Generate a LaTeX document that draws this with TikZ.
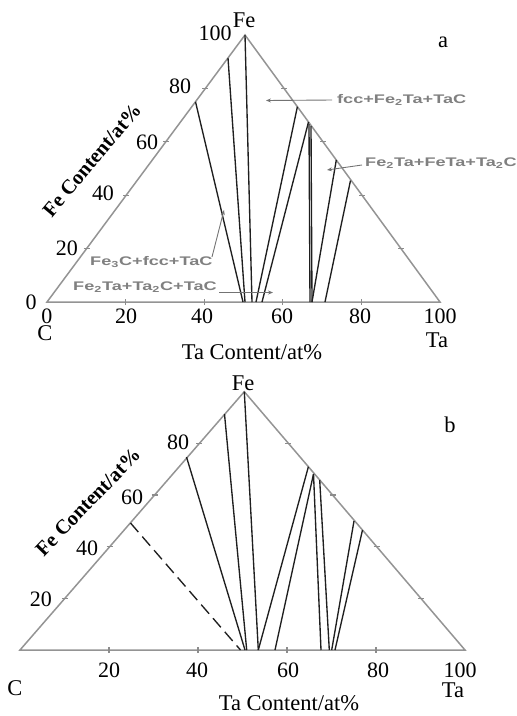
\documentclass[tikz,border=0pt]{standalone}
\usepackage{fontspec}
\usepackage{graphicx}
\setmainfont{Liberation Serif}
\newfontfamily\lsans{Liberation Sans}
\usetikzlibrary{arrows.meta}
\newcommand{\widetxt}[1]{\scalebox{1.45}[1]{#1}}
\begin{document}
\begin{tikzpicture}[x=1pt,y=-1pt,
  frame/.style={draw=black!42,line width=1.5pt,line join=miter},
  tie/.style={draw=black!88,line width=1.35pt},
  tickmark/.style={draw=black!45,line width=1.1pt},
  num/.style={font=\fontsize{22}{22}\selectfont,inner sep=0pt},
  axlab/.style={font=\fontsize{22.5}{22.5}\selectfont,inner sep=0pt},
  felab/.style={font=\bfseries\fontsize{20.5}{20.5}\selectfont,inner sep=0pt},
  phase/.style={font=\lsans\bfseries\fontsize{12.5}{12.5}\selectfont,text=black!50,inner sep=0pt},
  lead/.style={draw=black!55,line width=0.9pt},
  leadarrow/.style={lead,-{Stealth[length=5pt,width=4pt]}}]
\useasboundingbox (0,0) rectangle (517,716);

% ================= diagram a =================
\coordinate (aC) at (47,302);
\coordinate (aFe) at (245,35);
\coordinate (aTa) at (440,302);
\draw[frame] (aC) -- (aFe) -- (aTa) -- cycle;
% ticks
\foreach \f in {0.2,0.4,0.6,0.8}{
  \draw[tickmark] ({47+393*\f},299) -- ({47+393*\f},305);
  \draw[tickmark] ({47+198*\f-3},{302-267*\f}) -- ({47+198*\f+3},{302-267*\f});
  \draw[tickmark] ({440-195*\f-3},{302-267*\f}) -- ({440-195*\f+3},{302-267*\f});
}
% tie lines
\draw[tie] (195.5,101.75) -- (243,302);
\draw[tie] (228,58) -- (245,302);
\draw[tie] (aFe) -- (252,302);
\draw[tie] (297.4,106.7) -- (256,302);
\draw[tie] (308.5,122) -- (262,302);
\draw[tie] (309,124) -- (310,302);
\draw[tie] (311,126) -- (312,302);
\draw[tie] (336.3,160) -- (312,302);
\draw[tie] (350.5,180.5) -- (325,302);
% phase labels
\node[phase,anchor=west] (pa1) at (337,100) {\widetxt{fcc+Fe\textsubscript{2}Ta+TaC}};
\draw[leadarrow] (332,100) -- (266,100.5);
\node[phase,anchor=west] (pa2) at (365,163) {\widetxt{Fe\textsubscript{2}Ta+FeTa+Ta\textsubscript{2}C}};
\draw[leadarrow] (362,165) -- (327,170);
\node[phase,anchor=west] (pa3) at (90,262) {\widetxt{Fe\textsubscript{3}C+fcc+TaC}};
\draw[leadarrow] (212,257) -- (224,210);
\node[phase,anchor=west] (pa4) at (73,287) {\widetxt{Fe\textsubscript{2}Ta+Ta\textsubscript{2}C+TaC}};
\draw[leadarrow] (219,292.5) -- (273,292.5);
% numbers
\node[num] at (215,33) {100};
\node[num] at (180,86) {80};
\node[num] at (147,142) {60};
\node[num] at (103,193) {40};
\node[num] at (67,248) {20};
\node[num] at (31,302) {0};
\node[num] at (47,316) {0};
\node[num] at (126,316) {20};
\node[num] at (202,316) {40};
\node[num] at (282,316) {60};
\node[num] at (360,316) {80};
\node[num] at (440,316) {100};
\node[axlab] at (244,20) {Fe};
\node[axlab] at (45,333) {C};
\node[axlab] at (437,340) {Ta};
\node[axlab] at (252,352) {Ta Content/at\%};
\node[axlab] at (443,42) {a};
\node[felab,rotate=50] at (92,160) {Fe Content/at\%};

% ================= diagram b =================
\coordinate (bC) at (20,650);
\coordinate (bFe) at (244.3,391.7);
\coordinate (bTa) at (465,650);
\draw[frame] (bC) -- (bFe) -- (bTa) -- cycle;
\foreach \f in {0.2,0.4,0.6,0.8}{
  \draw[tickmark] ({20+445*\f},647) -- ({20+445*\f},653);
  \draw[tickmark] ({20+224.3*\f-3},{650-258.3*\f}) -- ({20+224.3*\f+3},{650-258.3*\f});
  \draw[tickmark] ({465-220.7*\f-3},{650-258.3*\f}) -- ({465-220.7*\f+3},{650-258.3*\f});
}
\draw[tie,dash pattern=on 12pt off 6pt] (130.5,523) -- (240.5,650);
\draw[tie] (186.5,457) -- (245,650);
\draw[tie] (224.5,414) -- (246.7,650);
\draw[tie] (bFe) -- (258.3,650);
\draw[tie] (308.4,466.7) -- (258.3,650);
\draw[tie] (313.5,474) -- (275,650);
\draw[tie] (313.5,474) -- (321,650);
\draw[tie] (319.7,480) -- (329.3,650);
\draw[tie] (354,521) -- (331.7,650);
\draw[tie] (362.5,530) -- (335,650);
% numbers
\node[num] at (178,442) {80};
\node[num] at (132,497) {60};
\node[num] at (87,548) {40};
\node[num] at (41,599) {20};
\node[num] at (109,670) {20};
\node[num] at (197,670) {40};
\node[num] at (288,670) {60};
\node[num] at (378,670) {80};
\node[num] at (460,670) {100};
\node[axlab] at (243,383) {Fe};
\node[axlab] at (15,688) {C};
\node[axlab] at (453,690) {Ta};
\node[axlab] at (289,703) {Ta Content/at\%};
\node[axlab] at (450,425) {b};
\node[felab,rotate=46] at (88,502) {Fe Content/at\%};
\end{tikzpicture}
\end{document}
